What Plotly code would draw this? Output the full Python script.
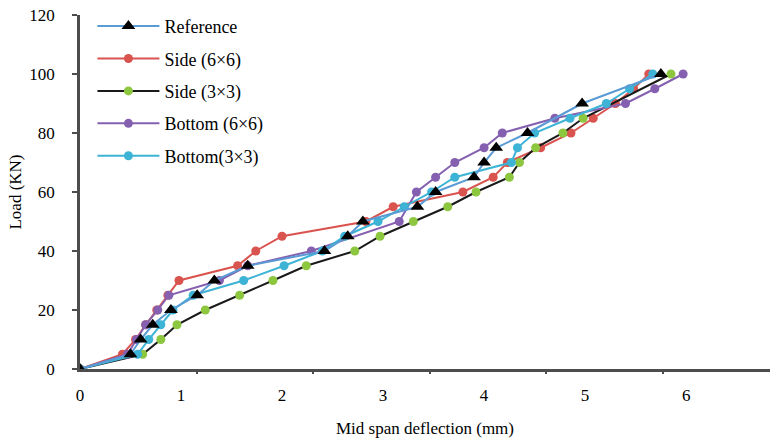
import plotly.graph_objects as go

# ---- data ----
ref_load = [0, 5, 10, 15, 20, 25, 30, 35, 40, 45, 50, 55, 60, 65, 70, 75, 80, 90, 100]
ref_defl = [0, 0.50, 0.60, 0.72, 0.90, 1.16, 1.33, 1.66, 2.42, 2.65, 2.80, 3.34, 3.52, 3.90, 4.00, 4.12, 4.43, 4.97, 5.75]

side66_load = [0, 5, 10, 15, 20, 25, 30, 35, 40, 45, 50, 55, 60, 65, 70, 75, 80, 85, 90, 95, 100]
side66_defl = [0, 0.42, 0.55, 0.65, 0.76, 0.87, 0.98, 1.56, 1.74, 2.00, 2.83, 3.10, 3.79, 4.09, 4.23, 4.56, 4.86, 5.08, 5.30, 5.48, 5.63]

side33_load = [0, 5, 10, 15, 20, 25, 30, 35, 40, 45, 50, 55, 60, 65, 70, 75, 80, 85, 100]
side33_defl = [0, 0.62, 0.80, 0.96, 1.24, 1.58, 1.91, 2.24, 2.72, 2.97, 3.30, 3.64, 3.92, 4.25, 4.35, 4.51, 4.78, 4.98, 5.85]

bot66_load = [0, 5, 10, 15, 20, 25, 30, 35, 40, 50, 60, 65, 70, 75, 80, 85, 90, 95, 100]
bot66_defl = [0, 0.47, 0.56, 0.65, 0.77, 0.88, 1.38, 1.66, 2.29, 3.16, 3.33, 3.52, 3.71, 4.00, 4.18, 4.70, 5.40, 5.69, 5.97]

bot33_load = [0, 5, 10, 15, 20, 25, 30, 35, 40, 45, 50, 55, 60, 65, 70, 75, 80, 85, 90, 95, 100]
bot33_defl = [0, 0.57, 0.68, 0.80, 0.92, 1.12, 1.62, 2.02, 2.40, 2.62, 2.95, 3.21, 3.48, 3.71, 4.27, 4.33, 4.50, 4.85, 5.21, 5.44, 5.67]

x_tick_labels = [0, 1, 2, 3, 4, 5, 6]
y_tick_labels = [0, 20, 40, 60, 80, 100, 120]
x_tick_marks = [1, 2, 3, 4, 5]

FONT = "Liberation Serif"

series = [
    # name, x, y, line colour, marker colour, symbol, size, legend rank
    ("Side (6×6)", side66_defl, side66_load, "#D9534F", "#D9534F", "circle", 9, 2),
    ("Side (3×3)", side33_defl, side33_load, "#1a1a1a", "#8DC63F", "circle", 9, 3),
    ("Bottom (6×6)", bot66_defl, bot66_load, "#8560B0", "#8560B0", "circle", 9, 4),
    ("Bottom(3×3)", bot33_defl, bot33_load, "#3DB3D6", "#3DB3D6", "circle", 9, 5),
    ("Reference", ref_defl, ref_load, "#5B9BD5", "#000000", "triangle-up", 12, 1),
]

fig = go.Figure()
for name, xs, ys, lc, mc, sym, sz, rank in series:
    fig.add_trace(go.Scatter(
        x=xs, y=ys, name=name, mode="lines+markers",
        line=dict(color=lc, width=2),
        marker=dict(color=mc, symbol=sym, size=sz, line=dict(width=0)),
        legendrank=rank, legendgroup=name,
    ))

# invisible trace so that the secondary (tick-mark) axis is drawn
fig.add_trace(go.Scatter(x=[], y=[], xaxis="x2", showlegend=False, hoverinfo="skip"))

fig.update_layout(
    width=774, height=443,
    margin=dict(l=80, r=4, t=15, b=74),
    paper_bgcolor="white", plot_bgcolor="white",
    font=dict(family=FONT, size=17, color="black"),
    showlegend=True,
    legend=dict(
        x=0.018, y=1.02, xanchor="left", yanchor="top",
        font=dict(family=FONT, size=18, color="black"),
        bgcolor="rgba(0,0,0,0)", itemwidth=62,
        traceorder="grouped", tracegroupgap=6,
    ),
    xaxis=dict(
        range=[0, 6.83], tickmode="array", tickvals=x_tick_labels,
        ticktext=[str(v) for v in x_tick_labels],
        ticks="", showgrid=False, zeroline=False,
        showline=True, linecolor="#4d4d4d", linewidth=2.5,
        ticklabelstandoff=9,
        title=dict(text="Mid span deflection (mm)", standoff=18,
                   font=dict(family=FONT, size=17)),
    ),
    xaxis2=dict(
        overlaying="x", anchor="y", side="bottom",
        range=[0, 690 / 116.6], tickmode="array", tickvals=x_tick_marks,
        ticks="outside", ticklen=4, tickwidth=2, tickcolor="#4d4d4d",
        showticklabels=False, showgrid=False, zeroline=False, showline=False,
    ),
    yaxis=dict(
        range=[0, 120], tickmode="array", tickvals=y_tick_labels,
        ticks="outside", ticklen=5, tickwidth=2, tickcolor="#4d4d4d",
        showgrid=False, zeroline=False,
        showline=True, linecolor="#4d4d4d", linewidth=2.5,
        ticklabelstandoff=14,
        title=dict(text="Load (KN)", standoff=4, font=dict(family=FONT, size=17)),
    ),
)

fig.write_html(
    "out.html",
    config={"displayModeBar": False},
    post_script="document.body.style.margin='0px';document.body.style.overflow='hidden';",
)
